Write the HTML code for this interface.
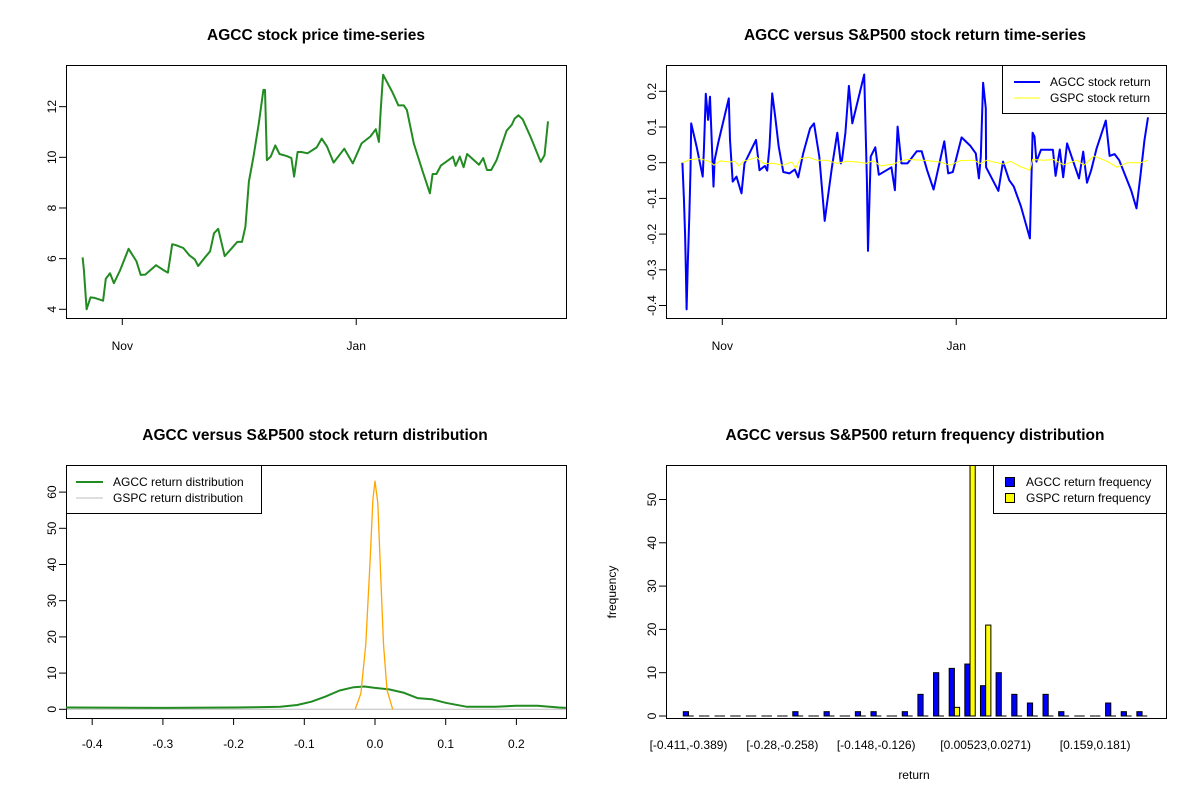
<!DOCTYPE html>
<html><head><meta charset="utf-8"><style>
body{margin:0;background:#fff;}
svg{display:block;font-family:"Liberation Sans",sans-serif;}
.t{font-size:12px;fill:#000;}
.title{font-size:15.5px;font-weight:bold;fill:#000;}
</style></head><body>
<svg id="c" width="1200" height="800">
<rect width="1200" height="800" fill="#fff"/>
</svg>
<script>
// ---- data: top-left price series ----
const priceDays=[-10.36,-10.0,-9.3,-8.3,-7.2,-6.0,-5.0,-4.3,-3.2,-2.2,-0.6,1.65,3.7,4.8,6.0,8.8,10.9,11.9,13.0,14.0,15.9,17.5,18.9,19.8,21.3,22.9,23.9,25.0,26.7,28.3,30.0,31.2,32.1,33.0,34.2,35.6,36.8,37.2,37.7,38.7,39.9,41.0,42.9,44.1,44.8,45.7,46.7,48.3,50.7,52.0,53.4,55.1,57.9,60.1,62.4,64.7,66.1,66.9,67.4,68.0,70.4,72.0,73.4,74.2,76.0,78.2,80.2,80.9,81.9,83.1,85.6,86.2,86.9,88.0,89.0,89.9,93.0,94.1,95.1,96.2,97.6,100.2,101.6,102.3,103.3,104.4,106.6,109.1,110.1,111.0];
const priceVals=[6.05,5.55,4.0,4.47,4.45,4.39,4.34,5.21,5.42,5.03,5.53,6.39,5.89,5.36,5.37,5.74,5.53,5.45,6.57,6.53,6.42,6.13,5.97,5.71,6.0,6.29,7.0,7.18,6.1,6.37,6.66,6.66,7.26,9.05,10.03,11.34,12.66,12.66,9.89,10.03,10.47,10.13,10.05,9.97,9.24,10.21,10.21,10.16,10.39,10.74,10.42,9.79,10.34,9.76,10.55,10.82,11.11,10.61,11.92,13.26,12.58,12.05,12.05,11.87,10.55,9.5,8.58,9.34,9.34,9.68,9.95,10.03,9.66,10.03,9.61,10.13,9.71,9.97,9.5,9.5,9.89,11.05,11.29,11.53,11.66,11.5,10.76,9.82,10.08,11.42];
const priceTicks=[4,6,8,10,12];
const dateTickDays=[0,61];
const dateTickLabels=["Nov","Jan"];
// ---- data: top-right returns ----
const retDays=[-10.4,-10.0,-9.7,-9.5,-9.3,-9.0,-8.6,-8.3,-8.1,-6.7,-5.1,-4.8,-4.3,-3.7,-3.2,-2.3,-2.0,-1.0,1.7,2.0,2.7,3.7,5.0,5.8,8.8,9.7,11.1,11.7,12.3,13.0,13.8,14.7,15.9,17.5,18.9,19.8,21.1,22.9,23.9,25.3,26.7,27.2,28.6,30.0,30.9,31.2,32.1,33.0,33.9,37.0,37.7,38.0,38.7,39.9,40.8,44.1,45.0,45.7,46.7,48.3,50.7,52.0,53.4,55.1,57.9,58.9,60.1,62.4,64.7,66.1,66.9,67.4,68.0,68.7,68.8,72.0,73.2,74.8,76.0,77.9,80.2,80.9,81.4,81.9,83.1,85.6,86.2,86.9,88.0,88.9,89.9,93.0,94.1,95.1,96.2,97.6,100.0,101.0,102.3,103.5,106.6,108.0,109.1,110.1,111.0];
const agccRet=[0,-0.100,-0.203,-0.306,-0.411,-0.282,-0.151,-0.021,0.110,0.045,-0.039,0.036,0.193,0.120,0.185,-0.067,0.007,0.059,0.180,0.064,-0.053,-0.039,-0.086,-0.002,0.064,-0.021,-0.009,-0.022,0.045,0.194,0.129,0.045,-0.026,-0.030,-0.019,-0.041,0.026,0.096,0.110,0.017,-0.163,-0.123,-0.011,0.084,-0.002,0.007,0.084,0.215,0.110,0.247,-0.049,-0.247,0.017,0.043,-0.034,-0.013,-0.077,0.101,-0.002,-0.002,0.032,0.032,-0.021,-0.075,0.060,-0.030,-0.026,0.071,0.047,0.026,-0.044,0.017,0.224,0.152,-0.013,-0.079,0.003,-0.049,-0.067,-0.123,-0.212,0.084,0.073,0.003,0.036,0.036,0.036,-0.037,0.037,-0.041,0.054,-0.044,0.031,-0.056,-0.021,0.040,0.118,0.019,0.024,0.007,-0.077,-0.128,-0.030,0.064,0.127];
const gspcDays=[-10.4,-8.4,-5.8,-3.2,-2.2,-0.6,2.0,3.3,4.3,5.5,9.0,10.7,13.3,15.9,18.1,19.2,20.3,22.5,24.6,27.2,29.9,32.5,35.1,37.5,39.4,41.2,44.6,46.4,48.1,52.5,56.8,59.4,62.1,65.5,67.3,69.0,70.8,73.4,75.1,77.7,80.2,80.9,83.8,86.4,89.0,92.5,94.3,96.9,100.3,103.0,105.6,109.1,111.0];
const gspcRet=[0,0.009,0.011,0.003,-0.007,0.005,0.002,0.004,-0.009,0.004,0.015,-0.002,-0.002,-0.007,0.002,-0.015,0.011,0.015,0.007,0.007,-0.002,0.004,0.002,-0.002,0.006,-0.009,-0.004,0.004,0.009,0.007,0.002,-0.007,0.006,0.007,-0.002,0.007,0.002,-0.004,0.004,-0.011,-0.021,0.009,0.007,0.009,-0.006,0.007,-0.007,0.019,0.004,-0.013,0,0,0.007];
const retTicks=[0.2,0.1,0,-0.1,-0.2,-0.3,-0.4];
const retTickLabels=["0.2","0.1","0.0","-0.1","-0.2","-0.3","-0.4"];
// ---- data: bottom-left densities ----
const agccDensX=[-0.437,-0.43,-0.3,-0.2,-0.16,-0.134,-0.11,-0.09,-0.07,-0.05,-0.03,-0.015,0,0.02,0.04,0.06,0.08,0.1,0.13,0.17,0.2,0.23,0.26,0.27];
const agccDensY=[0.5,0.5,0.4,0.5,0.6,0.7,1.2,2.1,3.5,5.2,6.1,6.3,5.9,5.5,4.6,3.1,2.8,1.8,0.7,0.7,1.0,1.0,0.5,0.4];
const gspcDensX=[-0.028,-0.02,-0.013,-0.007,-0.003,0,0.004,0.008,0.012,0.017,0.025];
const gspcDensY=[0,4.4,18,41,58,63,57,37,18,5.3,0];
const densXTicks=[-0.4,-0.3,-0.2,-0.1,0,0.1,0.2];
const densXTickLabels=["-0.4","-0.3","-0.2","-0.1","0.0","0.1","0.2"];
const densYTicks=[0,10,20,30,40,50,60];
// ---- data: bottom-right histogram ----
const agccFreq=[1,0,0,0,0,0,0,1,0,1,0,1,1,0,1,5,10,11,12,7,10,5,3,5,1,0,0,3,1,1];
const gspcFreq=[0,0,0,0,0,0,0,0,0,0,0,0,0,0,0,0,0,2,60,21,0,0,0,0,0,0,0,0,0,0];
const binLabels={0:"[-0.411,-0.389)",6:"[-0.28,-0.258)",12:"[-0.148,-0.126)",19:"[0.00523,0.0271)",26:"[0.159,0.181)"};
const freqTicks=[0,10,20,30,40,50];

const svg=document.getElementById('c');
const NS='http://www.w3.org/2000/svg';
function mk(tag,attrs,parent){const e=document.createElementNS(NS,tag);for(const k in attrs)e.setAttribute(k,attrs[k]);(parent||svg).appendChild(e);return e;}
function txt(x,y,s,cls,anchor,rot,parent){const e=mk('text',{x:x,y:y,class:cls,'text-anchor':anchor||'middle'},parent);if(rot)e.setAttribute('transform','rotate(-90 '+x+' '+y+')');e.textContent=s;return e;}
function poly(xs,ys,fx,fy,color,w,parent){let d='';for(let i=0;i<xs.length;i++)d+=(i?'L':'M')+fx(xs[i]).toFixed(1)+','+fy(ys[i]).toFixed(1);return mk('path',{d:d,fill:'none',stroke:color,'stroke-width':w,'stroke-linejoin':'round'},parent);}
function box(x0,y0,x1,y1,parent){return mk('rect',{x:x0,y:y0,width:x1-x0,height:y1-y0,fill:'none',stroke:'#000','stroke-width':1},parent);}

// ===== Panel 1 =====
let g=mk('g',{});


let t=txt(316,40,'AGCC stock price time-series','title','middle',false,g);

const dx=d=>122.3+d*3.835;
const py=v=>309.3-(v-4)*25.33;
box(66.5,65.5,566.5,318.5,g);
priceTicks.forEach(v=>{mk('line',{x1:59,x2:66,y1:py(v),y2:py(v),stroke:'#000'},g);txt(56,py(v),String(v),'t','middle',true,g);});
dateTickDays.forEach((d,i)=>{mk('line',{x1:dx(d),x2:dx(d),y1:318,y2:325,stroke:'#000'},g);txt(dx(d),350,dateTickLabels[i],'t','middle',false,g);});
let p=poly(priceDays,priceVals,dx,py,'#228b22',2,g);


// ===== Panel 2 =====
g=mk('g',{});


t=txt(915,40,'AGCC versus S&P500 stock return time-series','title','middle',false,g);

const dx2=d=>722.3+d*3.835;
const ry=v=>162.7-v*357;
box(666.5,65.5,1166.5,318.5,g);
retTicks.forEach((v,i)=>{mk('line',{x1:659,x2:666,y1:ry(v),y2:ry(v),stroke:'#000'},g);txt(656,ry(v),retTickLabels[i],'t','middle',true,g);});
dateTickDays.forEach((d,i)=>{mk('line',{x1:dx2(d),x2:dx2(d),y1:318,y2:325,stroke:'#000'},g);txt(dx2(d),350,dateTickLabels[i],'t','middle',false,g);});
p=poly(retDays,agccRet,dx2,ry,'#0000ff',2,g);

p=poly(gspcDays,gspcRet,dx2,ry,'#ffff00',1,g);

let lg=mk('g',{},g);

mk('rect',{x:1002.5,y:65.5,width:164,height:48,fill:'#fff',stroke:'#000'},lg);
mk('line',{x1:1014,x2:1040,y1:82,y2:82,stroke:'#0000ff','stroke-width':2},lg);
mk('line',{x1:1014,x2:1040,y1:98,y2:98,stroke:'#ffff00','stroke-width':1},lg);
txt(1050,86,'AGCC stock return','t','start',false,lg);
txt(1050,102,'GSPC stock return','t','start',false,lg);

// ===== Panel 3 =====
g=mk('g',{});


t=txt(315,440,'AGCC versus S&P500 stock return distribution','title','middle',false,g);

const bx=v=>375+v*707;
const by=v=>709.3-v*3.62;
box(66.5,465.5,566.5,718.5,g);
densYTicks.forEach(v=>{mk('line',{x1:59,x2:66,y1:by(v),y2:by(v),stroke:'#000'},g);txt(56,by(v),String(v),'t','middle',true,g);});
densXTicks.forEach((v,i)=>{mk('line',{x1:bx(v),x2:bx(v),y1:718,y2:725,stroke:'#000'},g);txt(bx(v),748,densXTickLabels[i],'t','middle',false,g);});
mk('line',{x1:67,x2:566,y1:by(0),y2:by(0),stroke:'#bebebe'},g);
p=poly(agccDensX,agccDensY,bx,by,'#228b22',2,g);

p=poly(gspcDensX,gspcDensY,bx,by,'#ffa500',1.3,g);

lg=mk('g',{},g);

mk('rect',{x:66.5,y:465.5,width:195,height:48,fill:'#fff',stroke:'#000'},lg);
mk('line',{x1:76,x2:103,y1:482,y2:482,stroke:'#228b22','stroke-width':2},lg);
mk('line',{x1:76,x2:103,y1:498,y2:498,stroke:'#bebebe','stroke-width':1},lg);
txt(113,486,'AGCC return distribution','t','start',false,lg);
txt(113,502,'GSPC return distribution','t','start',false,lg);

// ===== Panel 4 =====
g=mk('g',{});


t=txt(915,440,'AGCC versus S&P500 return frequency distribution','title','middle',false,g);

const hy=v=>716-v*4.33;
const gx=i=>683.3+i*15.64;
const bw=5.21;
const clip=mk('clipPath',{id:'hc'},g);mk('rect',{x:666,y:465,width:500,height:253},clip);
const bars=mk('g',{'clip-path':'url(#hc)'},g);
function bar(x,v,fill,name){
  if(v===0){const l=mk('line',{x1:x,x2:x+bw,y1:hy(0),y2:hy(0),stroke:'#000','stroke-width':1},bars);
    return;}
  const r=mk('rect',{x:x,y:hy(v),width:bw,height:hy(0)-hy(v),fill:fill,stroke:'#000','stroke-width':1},bars);
  
}
agccFreq.forEach((v,i)=>bar(gx(i),v,'#0000ff','agcc-bar'));
gspcFreq.forEach((v,i)=>bar(gx(i)+bw,v,'#ffff00','gspc-bar'));
box(666.5,465.5,1166.5,718.5,g);
freqTicks.forEach(v=>{mk('line',{x1:659,x2:666,y1:hy(v),y2:hy(v),stroke:'#000'},g);txt(656,hy(v),String(v),'t','middle',true,g);});
for(const k in binLabels){txt(gx(+k)+bw,749,binLabels[k],'t','middle',false,g);}
t=txt(616,592,'frequency','t','middle',true,g);
t=txt(914,779,'return','t','middle',false,g);
lg=mk('g',{},g);

mk('rect',{x:993.5,y:465.5,width:173,height:48,fill:'#fff',stroke:'#000'},lg);
mk('rect',{x:1005.5,y:477.5,width:9,height:9,fill:'#0000ff',stroke:'#000'},lg);
mk('rect',{x:1005.5,y:493.5,width:9,height:9,fill:'#ffff00',stroke:'#000'},lg);
txt(1026,486,'AGCC return frequency','t','start',false,lg);
txt(1026,502,'GSPC return frequency','t','start',false,lg);
</script>
</body></html>
